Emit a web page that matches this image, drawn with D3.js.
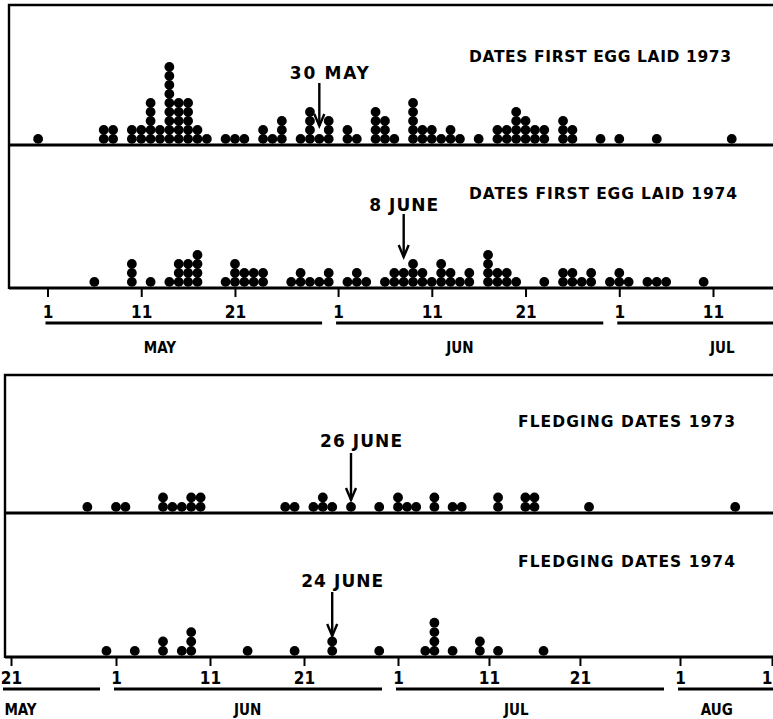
<!DOCTYPE html>
<html>
<head>
<meta charset="utf-8">
<script src="https://cdn.jsdelivr.net/npm/d3@7"></script>
<style>
  html, body { margin: 0; background: #fff; }
  svg { display: block; }
</style>
</head>
<body>
<div id="chart"></div>
<script>
// each entry: [date "MM-DD", number of nests on that date]
var EGG_1973 = [["04-30",1],["05-07",2],["05-08",2],["05-10",2],["05-11",2],["05-12",5],["05-13",2],
  ["05-14",9],["05-15",5],["05-16",5],["05-17",2],["05-18",1],["05-20",1],["05-21",1],["05-22",1],
  ["05-24",2],["05-25",1],["05-26",3],["05-28",1],["05-29",4],["05-30",1],["05-31",3],["06-02",2],
  ["06-03",1],["06-05",4],["06-06",3],["06-07",1],["06-09",5],["06-10",2],["06-11",2],["06-12",1],
  ["06-13",2],["06-14",1],["06-16",1],["06-18",2],["06-19",2],["06-20",4],["06-21",3],["06-22",2],
  ["06-23",2],["06-25",3],["06-26",2],["06-29",1],["07-01",1],["07-05",1],["07-13",1]];
var EGG_1974 = [["05-06",1],["05-10",3],["05-12",1],["05-14",1],["05-15",3],["05-16",3],["05-17",4],
  ["05-20",1],["05-21",3],["05-22",2],["05-23",2],["05-24",2],["05-27",1],["05-28",2],["05-29",1],
  ["05-30",1],["05-31",2],["06-02",1],["06-03",2],["06-04",1],["06-06",1],["06-07",2],["06-08",2],
  ["06-09",3],["06-10",2],["06-11",1],["06-12",3],["06-13",2],["06-14",1],["06-15",2],["06-17",4],
  ["06-18",2],["06-19",2],["06-20",1],["06-23",1],["06-25",2],["06-26",2],["06-27",1],["06-28",2],
  ["06-30",1],["07-01",2],["07-02",1],["07-04",1],["07-05",1],["07-06",1],["07-10",1]];
var FLEDGE_1973 = [["05-29",1],["06-01",1],["06-02",1],["06-06",2],["06-07",1],["06-08",1],["06-09",2],
  ["06-10",2],["06-19",1],["06-20",1],["06-22",1],["06-23",2],["06-24",1],["06-26",1],["06-29",1],
  ["07-01",2],["07-02",1],["07-03",1],["07-05",2],["07-07",1],["07-08",1],["07-12",2],["07-15",2],
  ["07-16",2],["07-22",1],["08-07",1]];
var FLEDGE_1974 = [["05-31",1],["06-03",1],["06-06",2],["06-08",1],["06-09",3],["06-15",1],["06-20",1],
  ["06-24",2],["06-29",1],["07-04",1],["07-05",4],["07-07",1],["07-10",2],["07-12",1],["07-17",1]];

var TITLES = ["DATES FIRST EGG LAID 1973", "DATES FIRST EGG LAID 1974", "FLEDGING DATES 1973", "FLEDGING DATES 1974"];
var MEDIANS = [["05-30","30 MAY"], ["06-08","8 JUNE"], ["06-26","26 JUNE"], ["06-24","24 JUNE"]];

var TICKS_TOP = ["05-01","05-11","05-21","06-01","06-11","06-21","07-01","07-11"];
var TICKS_BOTTOM = ["05-21","06-01","06-11","06-21","07-01","07-11","07-21","08-01","08-11"];
var MONTHS_TOP = [["05-01","MAY","05-13"], ["06-01","JUN","06-14"], ["07-01","JUL","07-12"]];
var MONTHS_BOTTOM = [["05-01","MAY","05-22"], ["06-01","JUN","06-15"], ["07-01","JUL","07-14"], ["08-01","AUG","08-05"]];

(function () {
  "use strict";
  var W = 773, H = 719, R = 4.9;
  var TITLE_FONT = "'DejaVu Sans', Verdana, sans-serif";
  var NARROW = "'Liberation Sans Narrow', 'DejaVu Sans Condensed', 'Arial Narrow', sans-serif";
  var parse = function (s) { var p = s.split("-"); return new Date(Date.UTC(2001, +p[0] - 1, +p[1])); };

  var svg = d3.select("#chart").append("svg").attr("width", W).attr("height", H);

  // the printed time axes (bottom one is drawn slightly uneven, so keep its month anchors)
  var xTop = d3.scaleUtc().domain([parse("05-01"), parse("07-11")]).range([47.5, 713]);
  var xBot = d3.scaleUtc().domain(["05-21", "06-01", "07-01", "08-01", "08-11"].map(parse))
    .range([11, 116, 398, 680, 772]);

  var blocks = [
    { x: xTop, left: 9, top: 5, ticks: TICKS_TOP, months: MONTHS_TOP, lab: 318, under: 323, mon: 353, step: 9,
      panels: [
        { data: EGG_1973, base: 145, title: TITLES[0], tx: 731, ty: 62, tw: 262, med: MEDIANS[0], my: 79, mw: 79, mdx: 10, a0: 83, a1: 126 },
        { data: EGG_1974, base: 288, title: TITLES[1], tx: 737, ty: 199, tw: 268, med: MEDIANS[1], my: 211, mw: 69, mdx: 0, a0: 214, a1: 257 }
      ] },
    { x: xBot, left: 5, top: 375, ticks: TICKS_BOTTOM, months: MONTHS_BOTTOM, lab: 684, under: 689, mon: 715, step: 9.4,
      panels: [
        { data: FLEDGE_1973, base: 513, title: TITLES[2], tx: 735, ty: 427, tw: 217, med: MEDIANS[2], my: 447, mw: 82, mdx: 10, a0: 453, a1: 500 },
        { data: FLEDGE_1974, base: 657, title: TITLES[3], tx: 735, ty: 567, tw: 217, med: MEDIANS[3], my: 587, mw: 82, mdx: 10, a0: 592, a1: 636 }
      ] }
  ];

  blocks.forEach(function (b) {
    var g = svg.append("g");
    var last = b.panels[b.panels.length - 1].base;

    // frame: top rule + left side
    g.append("path").attr("d", "M" + W + "," + b.top + "H" + b.left + "V" + (last + 1))
      .attr("fill", "none").attr("stroke", "#000").attr("stroke-width", 2.4);

    b.panels.forEach(function (p) {
      g.append("line").attr("x1", b.left).attr("x2", W).attr("y1", p.base).attr("y2", p.base)
        .attr("stroke", "#000").attr("stroke-width", 2.8);

      // stacked dots, one per nest
      var pts = [];
      p.data.forEach(function (d) {
        d3.range(d[1]).forEach(function (i) { pts.push({ date: parse(d[0]), i: i }); });
      });
      g.selectAll(null).data(pts).enter().append("circle")
        .attr("cx", function (d) { return b.x(d.date); })
        .attr("cy", function (d) { return p.base - 1.2 - R - d.i * b.step; })
        .attr("r", R).attr("fill", "#000");

      g.append("text").attr("x", p.tx).attr("y", p.ty).attr("text-anchor", "end")
        .attr("font-family", TITLE_FONT).attr("font-weight", "bold").attr("font-size", 15.5)
        .attr("textLength", p.tw).attr("lengthAdjust", "spacing").text(p.title);

      // median arrow
      var mx = b.x(parse(p.med[0]));
      g.append("text").attr("x", mx + p.mdx).attr("y", p.my).attr("text-anchor", "middle")
        .attr("font-family", TITLE_FONT).attr("font-weight", "bold").attr("font-size", 17)
        .attr("textLength", p.mw).attr("lengthAdjust", "spacing").text(p.med[1]);
      g.append("line").attr("x1", mx).attr("x2", mx).attr("y1", p.a0).attr("y2", p.a1)
        .attr("stroke", "#000").attr("stroke-width", 2.4);
      g.append("path").attr("d", "M" + (mx - 5) + "," + (p.a1 - 12) + "L" + mx + "," + p.a1 + "L" + (mx + 5) + "," + (p.a1 - 12))
        .attr("fill", "none").attr("stroke", "#000").attr("stroke-width", 2.4);
    });

    // day ticks
    var ax = g.append("g").attr("transform", "translate(0," + last + ")")
      .call(d3.axisBottom(b.x).tickValues(b.ticks.map(parse)).tickSize(9).tickSizeOuter(0)
        .tickFormat(d3.utcFormat("%-d")));
    ax.select(".domain").remove();
    ax.selectAll(".tick line").attr("stroke", "#000").attr("stroke-width", 2);
    ax.selectAll(".tick text").attr("y", b.lab - last).attr("dy", 0).attr("fill", "#000")
      .attr("font-family", NARROW).attr("font-weight", "bold").attr("font-size", 17);

    // month rules + names
    b.months.forEach(function (m, i) {
      var x0 = Math.max(b.left - 2, b.x(parse(m[0])) - 2);
      var nxt = b.months[i + 1];
      var x1 = nxt ? b.x(parse(nxt[0])) - 16 : W;
      g.append("line").attr("x1", x0).attr("x2", x1).attr("y1", b.under).attr("y2", b.under)
        .attr("stroke", "#000").attr("stroke-width", 2.8);
      g.append("text").attr("x", b.x(parse(m[2]))).attr("y", b.mon).attr("text-anchor", "middle")
        .attr("font-family", NARROW).attr("font-weight", "bold").attr("font-size", 15).text(m[1]);
    });
  });
})();
</script>
</body>
</html>
